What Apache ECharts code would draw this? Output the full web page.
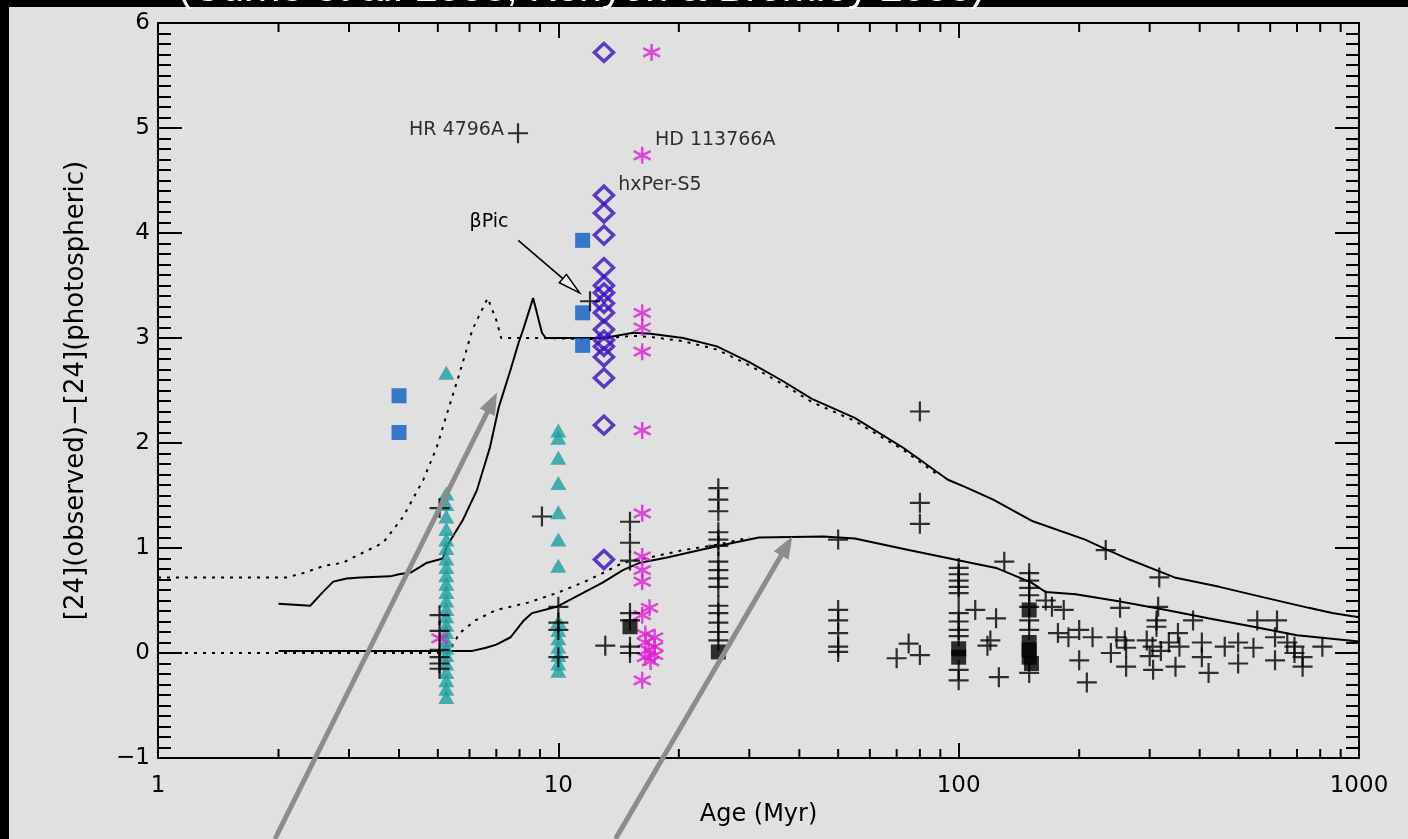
<!DOCTYPE html>
<html>
<head>
<meta charset="utf-8">
<script src="https://cdn.jsdelivr.net/npm/echarts@6.0.0/dist/echarts.min.js"></script>
<style>
  html, body { margin: 0; padding: 0; background: #000; }
  #chart { width: 1408px; height: 839px; }
</style>
</head>
<body>
<div id="chart"></div>
<script>
// ---- Model curves: [age (Myr), excess] ----
const upperModelSolid = [[2.0,0.47],[2.4,0.45],[2.58,0.58],[2.74,0.68],[2.96,0.71],[3.2,0.72],[3.8,0.73],[4.0,0.75],[4.3,0.77],[4.7,0.86],[5.15,0.9],[5.27,1.02],[5.78,1.27],[6.26,1.55],[6.75,1.96],[7.1,2.34],[7.6,2.7],[7.95,2.95],[8.2,3.1],[8.65,3.38],[9.1,3.05],[9.3,3.0],[12,3.0],[13,3.0],[15.4,3.05],[17,3.04],[20.5,3.0],[24.9,2.92],[30,2.77],[36,2.6],[43,2.42],[55,2.24],[73,1.95],[94,1.65],[104,1.58],[122,1.46],[152,1.26],[207,1.08],[233,0.99],[267,0.89],[346,0.72],[448,0.63],[578,0.53],[749,0.43],[857,0.38],[1000,0.34]];
const upperModelDotted = [[1,0.72],[2.1,0.72],[2.3,0.76],[2.6,0.83],[2.9,0.86],[3.0,0.89],[3.65,1.05],[4.1,1.3],[4.6,1.65],[4.97,1.96],[5.27,2.28],[5.6,2.6],[5.9,2.89],[6.1,3.08],[6.66,3.38],[7.0,3.17],[7.2,3.0],[9,3.0],[12,2.99],[15.4,3.02],[17,3.01],[20.5,2.97],[24.9,2.89],[30,2.74],[36,2.57],[43,2.39],[55,2.21],[73,1.93],[90,1.68]];
const lowerModelSolid = [[2,0.02],[6.1,0.02],[6.6,0.05],[7.0,0.08],[7.6,0.15],[8.2,0.31],[8.6,0.38],[9.9,0.44],[11.5,0.57],[12.9,0.67],[14.5,0.79],[16,0.86],[18.7,0.91],[22.6,0.98],[27.4,1.05],[31.7,1.1],[46,1.11],[55,1.09],[75,0.98],[104,0.87],[124,0.81],[152,0.67],[165,0.58],[196,0.56],[253,0.49],[330,0.41],[420,0.33],[545,0.25],[700,0.17],[1000,0.11]];
const lowerModelDotted = [[1,0],[5.3,0],[5.67,0.19],[6.2,0.31],[7.0,0.41],[8.4,0.48],[9.9,0.57],[11.5,0.67],[12.9,0.76],[14.5,0.86],[16.9,0.91],[20.5,0.98],[24.9,1.03],[30,1.1]];

// ---- Observed stars: [age (Myr), excess] ----
const blueSquares = [[4.0,2.45],[4.0,2.10],[11.5,3.93],[11.5,3.24],[11.5,2.93]];
const purpleDiamonds = [[13,5.72],[13,4.36],[13,4.19],[13,3.98],[13,3.67],[13,3.50],[13,3.43],[13,3.33],[13,3.24],[13,3.08],[13,2.98],[13,2.92],[13,2.82],[13,2.62],[13,2.17],[13,0.89]];
const magentaStars = [[17.1,5.72],[16.2,4.74],[16.2,3.24],[16.2,3.10],[16.2,2.87],[16.2,2.12],[16.2,1.33],[16.2,0.92],[16.2,0.79],[16.2,0.68],[16.9,0.43],[16.2,0.36],[16.5,0.18],[17.4,0.15],[16.5,0.10],[17.4,0.06],[16.8,0.03],[17.4,-0.02],[16.5,-0.04],[17.0,-0.08],[16.2,-0.26],[5.06,0.14]];
const tealTriangles = [[5.25,2.67],[5.25,1.52],[5.25,1.42],[5.25,1.30],[5.25,1.18],[5.25,1.08],[5.25,1.0],[5.25,0.9],[5.25,0.82],[5.25,0.74],[5.25,0.66],[5.25,0.58],[5.25,0.5],[5.25,0.42],[5.25,0.35],[5.25,0.27],[5.25,0.2],[5.25,0.12],[5.25,0.05],[5.25,-0.02],[5.25,-0.1],[5.25,-0.18],[5.25,-0.26],[5.25,-0.34],[5.25,-0.42],
  [10,2.12],[10,2.05],[10,1.86],[10,1.62],[10,1.34],[10,1.08],[10,0.83],[10,0.3],[10,0.22],[10,0.14],[10,0.06],[10,-0.02],[10,-0.1],[10,-0.17]];
const blackPlus = [[7.93,4.95],[12.0,3.35],
  [5.05,1.38],[5.05,0.36],[5.05,0.21],[5.05,0.03],[5.05,-0.04],[5.05,-0.1],[5.05,-0.15],
  [9.1,1.30],[10,0.44],[10,0.29],[10,0.22],[10,-0.04],[13.1,0.07],
  [15.1,1.25],[15.1,1.05],[15.1,0.88],[15.1,0.38],[15.1,0.31],[15.1,0.06],[15.1,0.0],
  [25.1,1.57],[25.1,1.46],[25.1,1.35],[25.1,1.15],[25.1,1.08],[25.1,1.02],[25.1,0.87],[25.1,0.79],[25.1,0.71],[25.1,0.63],[25.1,0.45],[25.1,0.38],[25.1,0.29],[25.1,0.2],[25.1,0.12],
  [50,1.08],[50,0.41],[50,0.31],[50,0.19],[50,0.06],[50,0.01],
  [70,-0.05],[75,0.09],[80,-0.02],[80,2.3],[80,1.43],[80,1.23],
  [100,0.81],[100,0.75],[100,0.69],[100,0.63],[100,0.57],[100,0.38],[100,0.3],[100,0.22],[100,0.16],[100,-0.16],[100,-0.26],
  [110,0.41],[124,0.33],[120,0.12],[118,0.07],[130,0.87],[126,-0.23],
  [150,0.76],[150,0.69],[150,0.62],[150,0.55],[150,0.44],[150,0.31],[150,0.22],[150,-0.19],
  [165,0.5],[171,0.44],[183,0.41],[177,0.19],[188,0.15],[200,0.22],[216,0.15],[200,-0.07],[209,-0.28],
  [233,0.98],[253,0.43],[248,0.15],[240,0.0],[262,-0.13],[260,0.12],[262,0.05],
  [317,0.72],[315,0.44],[312,0.31],[312,0.25],[295,0.12],[305,0.06],[320,0.02],[335,0.1],[300,-0.03],[306,-0.16],
  [353,0.19],[356,0.06],[348,-0.13],[385,0.31],[405,0.1],[405,-0.04],[421,-0.19],[462,0.06],[499,0.1],[499,-0.1],
  [545,0.05],[557,0.31],[624,0.31],[617,0.15],[617,-0.07],[662,0.1],[690,0.06],[690,0.0],[723,-0.04],[723,-0.13],[810,0.06]];
const blackBlocks = [[15.1,0.25],[25.1,0.01],[100,0.04],[100,-0.04],[150,0.41],[150,0.1],[150,0.03],[150,-0.04],[152,-0.1]];

// ---- Named objects ----
const starNames = { hr4796: 'HR 4796A', hd113766: 'HD 113766A', hxPer: 'hxPer-S5', betaPic: 'βPic' };

// ---- Axis ticks ----
const ageMinorTicks = [2,3,4,5,6,7,8,9,20,30,40,50,60,70,80,90,200,300,400,500,600,700,800,900];
const ageRange = [1, 1000];
const excessRange = [-1, 6];

// ---- Annotation arrows (data coordinates) ----
const pointerArrows = [
  { from: [1.96, -1.77], to: [7.03, 2.48] },
  { from: [13.9, -1.77], to: [38.4, 1.11] }
];
const betaPicLabelAt = [6.0, 4.1];
const betaPicArrow = { from: [7.94, 3.93], to: [11.3, 3.43] };

const INK = '#000';
const FONT = 'DejaVu Sans';
const NOTE_SIZE = 19;

function withLabel(data, idx, text, pos, offset) {
  return data.map((d, i) => i === idx ? {
    value: d,
    label: { show: true, formatter: text, position: pos, distance: 3, offset: offset,
             color: INK, fontSize: NOTE_SIZE, fontFamily: FONT }
  } : d);
}

const plusPath = 'path://M0,-1L0,1M-1,0L1,0';
const starPath = 'path://M0,-1L0,1M-0.87,-0.5L0.87,0.5M-0.87,0.5L0.87,-0.5';

const chart = echarts.init(document.getElementById('chart'), null, { renderer: 'canvas' });

const xAxisBase = {
  type: 'log', logBase: 10, min: ageRange[0], max: ageRange[1],
  axisLine: { show: true, onZero: false, lineStyle: { color: INK, width: 2 } },
  axisTick: { show: true, inside: true, length: 15, lineStyle: { color: INK, width: 2 } },
  splitLine: { show: false }
};
const yAxisBase = {
  type: 'value', min: excessRange[0], max: excessRange[1], interval: 1,
  axisLine: { show: true, onZero: false, lineStyle: { color: INK, width: 2 } },
  axisTick: { show: true, inside: true, length: 24, lineStyle: { color: INK, width: 2 } },
  minorTick: { show: true, splitNumber: 10, length: 13, lineStyle: { color: INK, width: 2 } },
  splitLine: { show: false }
};

chart.setOption({
  backgroundColor: '#000',
  animation: false,
  grid: { left: 158, right: 49, top: 23, bottom: 81, show: false },
  xAxis: [
    Object.assign({}, xAxisBase, {
      position: 'bottom',
      name: 'Age (Myr)', nameLocation: 'middle', nameGap: 42,
      nameTextStyle: { color: INK, fontSize: 24, fontFamily: FONT },
      axisLabel: { show: true, margin: 17, color: INK, fontSize: 23, fontFamily: FONT,
                   formatter: v => String(Math.round(v)) }
    }),
    Object.assign({}, xAxisBase, { position: 'top', axisLabel: { show: false } })
  ],
  yAxis: [
    Object.assign({}, yAxisBase, {
      position: 'left',
      name: '[24](observed)\u2212[24](photospheric)', nameLocation: 'middle', nameGap: 69,
      nameTextStyle: { color: INK, fontSize: 26, fontFamily: FONT },
      axisLabel: { show: true, margin: 8, color: INK, fontSize: 23, fontFamily: FONT,
                   formatter: v => v < 0 ? '\u2212' + (-v) : String(v) }
    }),
    Object.assign({}, yAxisBase, { position: 'right', axisLabel: { show: false } })
  ],
  series: [
    { type: 'line', data: upperModelSolid, symbol: 'none', z: 2,
      lineStyle: { color: INK, width: 2 } },
    { type: 'line', data: upperModelDotted, symbol: 'none', z: 2,
      lineStyle: { color: INK, width: 2, type: [3, 6] } },
    { type: 'line', data: lowerModelSolid, symbol: 'none', z: 2,
      lineStyle: { color: INK, width: 2 } },
    { type: 'line', data: lowerModelDotted, symbol: 'none', z: 2,
      lineStyle: { color: INK, width: 2, type: [3, 6] } },
    { type: 'scatter', data: tealTriangles, symbol: 'triangle', symbolSize: [16, 14], z: 3,
      itemStyle: { color: '#1c9f9f' } },
    { type: 'scatter', data: blueSquares, symbol: 'rect', symbolSize: 15, z: 3,
      itemStyle: { color: '#0b5cc4' } },
    { type: 'scatter', data: withLabel(purpleDiamonds, 1, starNames.hxPer, 'right', [0, -10]),
      symbol: 'diamond', symbolSize: [19, 18], z: 4,
      itemStyle: { color: 'rgba(0,0,0,0)', borderColor: '#3a0fbf', borderWidth: 3.5 } },
    { type: 'scatter', data: withLabel(magentaStars, 1, starNames.hd113766, 'right', [0, -15]),
      symbol: starPath, symbolSize: 17, z: 4,
      itemStyle: { color: 'rgba(0,0,0,0)', borderColor: '#dd1fd2', borderWidth: 2.5 } },
    { type: 'scatter', data: blackBlocks, symbol: 'rect', symbolSize: 15, z: 4,
      itemStyle: { color: INK } },
    { type: 'scatter', data: withLabel(blackPlus, 0, starNames.hr4796, 'left', [0, -3]),
      symbol: plusPath, symbolSize: 20, z: 5,
      itemStyle: { color: 'rgba(0,0,0,0)', borderColor: INK, borderWidth: 2.2 } },
    { // minor ticks of the logarithmic age axis, bottom and top edges
      type: 'custom', data: ageMinorTicks.map(v => [v]), z: 6, silent: true, clip: false,
      encode: { x: 0 },
      renderItem: function (params, api) {
        const v = api.value(0);
        const b = api.coord([v, excessRange[0]]);
        const t = api.coord([v, excessRange[1]]);
        const st = { stroke: INK, lineWidth: 2 };
        return { type: 'group', children: [
          { type: 'line', shape: { x1: b[0], y1: b[1], x2: b[0], y2: b[1] - 9 }, style: st },
          { type: 'line', shape: { x1: t[0], y1: t[1], x2: t[0], y2: t[1] + 9 }, style: st }
        ] };
      }
    }
  ]
});

// ---- Decorations placed from data coordinates ----
function px(p) { return chart.convertToPixel({ xAxisIndex: 0, yAxisIndex: 0 }, p); }

function arrowShapes(from, to, color, width, headLen, headW, hollow) {
  const a = px(from), b = px(to);
  const dx = b[0] - a[0], dy = b[1] - a[1];
  const len = Math.sqrt(dx * dx + dy * dy);
  const ux = dx / len, uy = dy / len, nx = -uy, ny = ux;
  const bx = b[0] - ux * headLen, by = b[1] - uy * headLen;
  const head = [[b[0], b[1]], [bx + nx * headW / 2, by + ny * headW / 2], [bx - nx * headW / 2, by - ny * headW / 2]];
  return [
    { type: 'line', z: 20, silent: true,
      shape: { x1: a[0], y1: a[1], x2: bx + ux * 2, y2: by + uy * 2 },
      style: { stroke: color, lineWidth: width } },
    { type: 'polygon', z: 20, silent: true, shape: { points: head },
      style: hollow ? { fill: '#eeeeee', stroke: color, lineWidth: 1.5 } : { fill: color } }
  ];
}

const graphics = [
  { type: 'rect', z: -100, silent: true, shape: { x: 9, y: 7, width: 1399, height: 832 },
    style: { fill: '#e0e0e0' } },
  { type: 'text', z: 30, silent: true, x: 178, y: 10,
    style: { text: '(Currie et al. 2008; Kenyon & Bromley 2008)', fill: '#fff',
             font: '41px "Liberation Sans"', verticalAlign: 'bottom' } }
];
const lp = px(betaPicLabelAt);
graphics.push({ type: 'text', z: 20, silent: true, x: lp[0], y: lp[1],
  style: { text: starNames.betaPic, fill: INK, font: NOTE_SIZE + 'px "' + FONT + '"', verticalAlign: 'middle' } });
graphics.push(...arrowShapes(betaPicArrow.from, betaPicArrow.to, INK, 1.6, 22, 11, true));
pointerArrows.forEach(a => graphics.push(...arrowShapes(a.from, a.to, '#8c8c8c', 5, 22, 17, false)));

chart.setOption({ graphic: graphics });
</script>
</body>
</html>
